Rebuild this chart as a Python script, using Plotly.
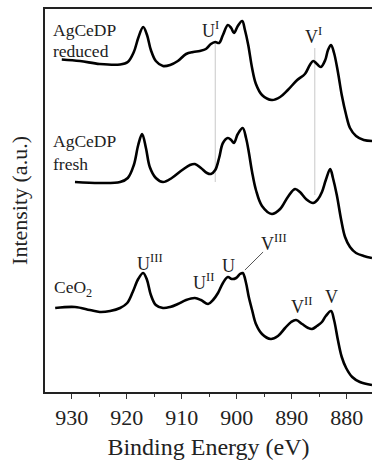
import plotly.graph_objects as go

# Binding energy (eV) and intensity (a.u.)
reduced_ev = [931.8, 928.5, 924.9, 921.2, 919.8, 918.7, 917.9, 917.0, 916.3, 915.6, 914.7, 913.4,
              912.1, 910.7, 909.2, 907.9, 906.7, 905.6, 904.7, 903.9, 903.2, 902.5, 901.6, 901.0,
              900.5, 899.8, 899.0, 898.5, 897.9, 897.2, 896.5, 895.4, 893.6, 892.1, 890.7, 889.0,
              887.6, 886.7, 886.1, 885.4, 884.7, 883.9, 883.4, 882.85, 882.3, 881.6, 880.9, 880.1,
              879.4, 878.3, 876.9, 875.4]
reduced_int = [332.5, 331, 328, 327.5, 330, 340, 354, 365, 357, 342, 331, 326,
               327, 331, 338, 340, 341, 343, 348, 350, 349, 357, 367, 364,
               359, 366, 371, 362, 347, 324, 308, 297, 292, 295, 302, 312,
               318, 327, 331, 328, 325, 332, 342, 347, 339, 320, 297, 277,
               264, 256, 252, 251]

fresh_ev = [929.4, 924.9, 921.2, 919.8, 918.7, 917.9, 917.2, 916.5, 915.8, 914.7, 913.4, 911.8,
            909.9, 908.5, 907.6, 906.5, 905.4, 904.7, 903.9, 903.2, 902.5, 901.6, 901.0, 900.5,
            899.8, 898.9, 898.3, 897.8, 897.2, 896.5, 895.4, 893.6, 892.1, 890.7, 889.4, 888.5,
            887.4, 886.1, 885.2, 884.5, 883.8, 883.0, 882.5, 881.8, 881.0, 880.3, 879.4, 878.3,
            876.9, 875.4]
fresh_int = [210, 209, 210, 214, 227, 247, 258, 244, 225, 214, 210, 214,
             222, 227, 228, 224, 219, 218, 222, 234, 249, 254, 252, 249,
             258, 264, 254, 240, 220, 202, 186, 178, 183, 195, 203, 200,
             193, 189, 193, 200, 212, 223, 214, 197, 172, 155, 145, 139,
             136, 134]

ceo2_ev = [933.0, 929.4, 926.7, 924.9, 923.0, 921.2, 919.9, 918.9, 917.9, 917.0, 916.3, 915.6,
           914.7, 913.4, 912.1, 910.7, 909.2, 907.6, 906.5, 905.2, 904.3, 903.4, 902.5, 901.6,
           900.9, 900.1, 899.4, 898.9, 898.3, 897.8, 897.2, 896.5, 895.4, 893.8, 892.5, 891.2,
           890.1, 889.2, 888.1, 887.0, 886.3, 885.4, 884.5, 883.8, 882.85, 882.3, 881.6, 880.9,
           880.1, 879.0, 877.6, 875.4]
ceo2_int = [84, 85, 82, 80, 81, 84, 89, 100, 113, 119, 112, 97,
            87, 84, 85, 88, 92, 94, 92, 88, 92, 99, 109, 115,
            113, 114, 118, 119, 109, 95, 82, 68, 58, 53, 56, 64,
            70, 72, 68, 64, 63, 66, 70, 76, 81, 72, 52, 35,
            24, 15, 10, 7]

# Reference lines U^I and V^I: energy, start and end intensity
ref_ev = [903.9, 885.8]
ref_lo = [210, 197]
ref_hi = [349, 344]

# Peak labels: text, energy, intensity
peak_text = ["U<sup>I</sup>", "V<sup>I</sup>", "U<sup>III</sup>", "U<sup>II</sup>", "U",
             "V<sup>III</sup>", "V<sup>II</sup>", "V"]
peak_ev = [904.85, 886.1, 915.7, 906.1, 901.4, 893.2, 888.3, 882.85]
peak_int = [363, 357, 130, 111, 126, 150, 87, 95]

# Sample labels: text, energy, intensity
sample_text = ["AgCeDP", "reduced", "AgCeDP", "fresh", "CeO<sub>2</sub>"]
sample_ev = [933.6, 933.6, 933.6, 933.6, 933.4]
sample_int = [362, 341, 251, 228, 104]

# V^III pointer
ptr_ev = [898.5, 895.2]
ptr_int = [122, 140]

FONT = "'Liberation Serif', 'Times New Roman', Times, 'DejaVu Serif', serif"
fig = go.Figure()

for ev, lo, hi in zip(ref_ev, ref_lo, ref_hi):
    fig.add_trace(go.Scatter(x=[ev, ev], y=[lo, hi], mode="lines",
                             line=dict(color="#c8c8c8", width=1), hoverinfo="skip"))
fig.add_trace(go.Scatter(x=ptr_ev, y=ptr_int, mode="lines",
                         line=dict(color="#555555", width=1), hoverinfo="skip"))

for xs, ys in [(reduced_ev, reduced_int), (fresh_ev, fresh_int), (ceo2_ev, ceo2_int)]:
    fig.add_trace(go.Scatter(x=xs, y=ys, mode="lines", line_shape="spline",
                             line=dict(color="black", width=2.6)))

for t, x, y in zip(peak_text, peak_ev, peak_int):
    fig.add_annotation(x=x, y=y, text=t, showarrow=False, xanchor="center", yanchor="middle",
                       font=dict(family=FONT, size=18, color="#222"))
for t, x, y in zip(sample_text, sample_ev, sample_int):
    fig.add_annotation(x=x, y=y, text=t, showarrow=False, xanchor="left", yanchor="middle",
                       borderpad=0, font=dict(family=FONT, size=17.5, color="#222"))

fig.update_layout(
    width=372, height=462,
    margin=dict(l=45, r=0, t=9, b=70),
    paper_bgcolor="white", plot_bgcolor="white",
    showlegend=False,
    font=dict(family=FONT, color="#222"),
    xaxis=dict(range=[934.85, 875.4], tickvals=[930, 920, 910, 900, 890, 880],
               ticks="outside", ticklen=5, tickwidth=1.2, tickcolor="#333",
               minor=dict(dtick=5, tick0=0, ticks="outside", ticklen=3, tickcolor="#333"),
               showline=True, linecolor="#222", linewidth=1.5, mirror=True,
               showgrid=False, zeroline=False,
               tickfont=dict(family=FONT, size=22, color="#222"),
               title=dict(text="Binding Energy (eV)", font=dict(family=FONT, size=24, color="#222"),
                          standoff=9)),
    yaxis=dict(range=[0, 383], showticklabels=False, ticks="",
               showline=True, linecolor="#222", linewidth=1.5,
               showgrid=False, zeroline=False,
               title=dict(text="Intensity (a.u.)", font=dict(family=FONT, size=22, color="#222"),
                          standoff=10)),
)

fig.write_html("out.html")
